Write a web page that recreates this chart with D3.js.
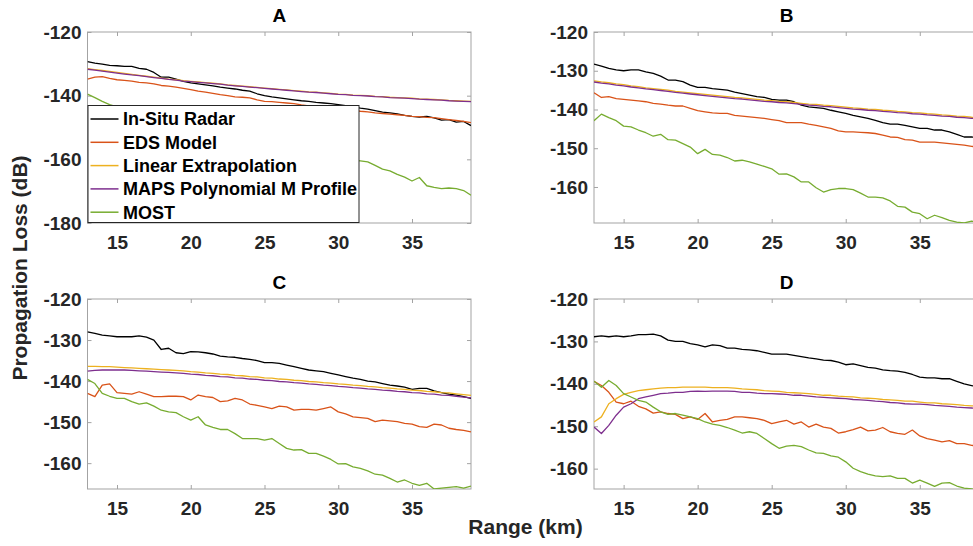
<!DOCTYPE html>
<html>
<head>
<meta charset="utf-8">
<script src="https://cdn.jsdelivr.net/npm/d3@7/dist/d3.min.js"></script>
<style>
  html, body { margin: 0; padding: 0; background: #fff; }
  svg { display: block; font-family: "Liberation Sans", Arial, Helvetica, sans-serif; }
</style>
</head>
<body>
<svg id="chart" width="973" height="546"></svg>
<script>
// ---------------- DATA ----------------
const seriesNames = ["In-Situ Radar", "EDS Model", "Linear Extrapolation", "MAPS Polynomial M Profile", "MOST"];
const seriesColors = ["#000000", "#D95319", "#EDB120", "#7E2F8E", "#77AC30"];
const panelTitles = ["A", "B", "C", "D"];
const xTicks = [15, 20, 25, 30, 35];
const yTicksA = [-180, -160, -140, -120];
const yTicksBCD = [-160, -150, -140, -130, -120];
const xDomain = [13, 39];
const yDomainA = [-180, -120];
const yDomainB = [-169.3, -120];
const yDomainC = [-166.3, -120];
const yDomainD = [-164.8, -120];

const rangeKm = [13,13.5,14,14.5,15,15.5,16,16.5,17,17.5,18,18.5,19,19.5,20,20.5,21,21.5,22,22.5,23,23.5,24,24.5,25,25.5,26,26.5,27,27.5,28,28.5,29,29.5,30,30.5,31,31.5,32,32.5,33,33.5,34,34.5,35,35.5,36,36.5,37,37.5,38,38.5,39];

// Panel A
const radarA = [-129.3,-129.8,-130.1,-130.5,-130.6,-130.8,-130.8,-131.4,-131.7,-132.7,-134.2,-134.2,-134.8,-135.5,-136.0,-136.3,-136.6,-136.9,-137.3,-137.6,-137.9,-138.3,-138.6,-139.4,-140.0,-140.4,-140.7,-141.0,-141.3,-141.6,-141.8,-142.1,-142.3,-142.5,-142.8,-143.1,-143.5,-143.9,-144.2,-144.7,-145.2,-145.4,-145.7,-146.2,-146.5,-146.7,-146.5,-147.0,-147.7,-147.5,-148.3,-148.1,-149.4];
const edsA = [-134.8,-134.2,-134.0,-134.6,-135.0,-135.2,-135.4,-135.8,-136.0,-136.3,-136.8,-137.0,-137.3,-137.7,-138.1,-138.6,-138.9,-139.3,-139.7,-140.0,-140.4,-140.5,-140.7,-141.3,-141.8,-141.9,-142.1,-142.3,-142.5,-142.9,-143.2,-143.4,-143.7,-143.9,-144.1,-144.3,-144.6,-144.9,-145.1,-145.4,-145.6,-145.8,-146.0,-146.2,-146.5,-146.6,-146.8,-146.9,-147.2,-147.5,-147.8,-148.1,-148.5];
const linearA = [-131.5,-131.8,-132.1,-132.4,-132.7,-133.0,-133.3,-133.6,-133.9,-134.2,-134.5,-134.8,-135.0,-135.3,-135.5,-135.7,-135.9,-136.1,-136.3,-136.6,-136.8,-137.0,-137.2,-137.4,-137.6,-137.8,-138.0,-138.2,-138.4,-138.6,-138.8,-138.9,-139.1,-139.3,-139.5,-139.6,-139.8,-139.9,-140.0,-140.2,-140.3,-140.5,-140.6,-140.7,-140.8,-141.0,-141.1,-141.2,-141.3,-141.5,-141.6,-141.7,-141.8];
const mapsA = [-131.7,-132.0,-132.3,-132.6,-132.9,-133.2,-133.5,-133.7,-134.0,-134.3,-134.6,-134.9,-135.1,-135.4,-135.6,-135.8,-136.0,-136.2,-136.4,-136.7,-136.9,-137.1,-137.3,-137.5,-137.7,-137.9,-138.1,-138.3,-138.5,-138.7,-138.9,-139.0,-139.2,-139.4,-139.6,-139.7,-139.9,-140.0,-140.1,-140.3,-140.4,-140.6,-140.7,-140.8,-140.9,-141.1,-141.2,-141.3,-141.4,-141.6,-141.7,-141.8,-141.9];
const mostA = [-139.5,-140.6,-141.8,-142.8,-143.5,-144.2,-144.6,-145.3,-146.0,-146.5,-147.2,-147.6,-148.4,-149.0,-149.5,-150.3,-150.8,-151.2,-151.9,-152.5,-153.0,-153.4,-154.0,-154.7,-155.1,-155.8,-156.4,-156.8,-157.3,-157.9,-158.2,-158.8,-159.2,-159.5,-159.8,-160.1,-160.3,-160.5,-160.8,-161.9,-163.1,-163.6,-164.7,-165.6,-166.8,-165.7,-168.3,-168.8,-169.2,-169.0,-169.2,-169.8,-171.3];

// Panel B
const radarB = [-128.3,-128.8,-129.4,-129.8,-130.0,-129.8,-129.8,-130.3,-130.7,-131.4,-132.4,-132.4,-132.8,-133.7,-134.3,-134.3,-134.6,-134.8,-135.0,-135.5,-135.9,-136.3,-136.7,-136.9,-137.4,-137.6,-137.6,-138.0,-138.9,-139.3,-139.5,-139.7,-140.2,-140.6,-141.0,-141.5,-141.9,-142.3,-142.8,-143.4,-143.8,-143.8,-144.1,-144.5,-144.9,-144.9,-145.3,-145.3,-145.8,-146.4,-147.1,-147.1,-147.2];
const edsB = [-135.7,-136.9,-136.7,-137.2,-137.4,-137.6,-137.8,-138.0,-138.4,-138.6,-138.9,-139.1,-139.1,-139.7,-140.3,-140.6,-140.9,-141.0,-141.0,-141.5,-141.7,-141.9,-142.1,-142.3,-142.6,-142.9,-143.4,-143.4,-143.4,-143.8,-144.1,-144.5,-144.9,-145.5,-145.8,-145.8,-145.9,-146.0,-146.2,-146.6,-147.1,-147.2,-147.8,-147.9,-148.4,-148.4,-148.4,-148.6,-148.8,-149.0,-149.2,-149.5,-149.8];
const linearB = [-132.6,-132.9,-133.1,-133.4,-133.6,-133.9,-134.1,-134.4,-134.6,-134.8,-135.0,-135.3,-135.5,-135.7,-135.9,-136.1,-136.3,-136.5,-136.7,-136.9,-137.0,-137.2,-137.4,-137.6,-137.7,-137.9,-138.0,-138.2,-138.4,-138.6,-138.7,-138.9,-139.0,-139.2,-139.4,-139.6,-139.7,-139.9,-140.0,-140.2,-140.3,-140.5,-140.6,-140.8,-140.9,-141.1,-141.2,-141.4,-141.5,-141.7,-141.8,-142.0,-142.1];
const mapsB = [-132.9,-133.2,-133.4,-133.7,-133.9,-134.2,-134.4,-134.7,-134.9,-135.1,-135.3,-135.6,-135.8,-136.0,-136.2,-136.4,-136.6,-136.8,-137.0,-137.2,-137.3,-137.5,-137.7,-137.9,-138.0,-138.2,-138.3,-138.5,-138.7,-138.9,-139.0,-139.2,-139.3,-139.5,-139.7,-139.9,-140.0,-140.2,-140.3,-140.5,-140.6,-140.8,-140.9,-141.1,-141.2,-141.4,-141.5,-141.7,-141.8,-142.0,-142.1,-142.3,-142.4];
const mostB = [-142.9,-141.2,-142.1,-142.9,-144.3,-144.5,-145.3,-146.0,-146.9,-146.4,-147.8,-147.9,-148.8,-149.7,-151.4,-150.3,-151.6,-151.8,-152.4,-153.3,-153.1,-153.5,-154.1,-154.7,-155.3,-156.7,-156.6,-157.4,-158.7,-158.7,-160.2,-161.3,-160.7,-160.4,-160.4,-160.7,-161.6,-162.6,-162.6,-162.8,-163.6,-165.0,-165.2,-166.5,-166.9,-168.2,-167.3,-167.9,-168.6,-169.1,-169.3,-168.8,-169.1];

// Panel C
const radarC = [-128.0,-128.4,-128.8,-129.0,-129.2,-129.2,-129.2,-129.0,-129.3,-130.0,-132.3,-132.0,-133.1,-133.3,-132.8,-132.9,-133.1,-133.4,-133.9,-134.1,-134.2,-134.5,-134.7,-135.0,-135.5,-135.5,-135.7,-136.1,-136.5,-136.9,-137.3,-137.5,-137.7,-138.1,-138.5,-138.9,-139.3,-139.6,-140.0,-140.2,-140.6,-141.0,-141.2,-141.5,-142.0,-141.8,-141.8,-142.4,-142.8,-143.2,-143.4,-143.8,-144.2];
const edsC = [-143.0,-143.8,-141.0,-140.7,-142.8,-143.0,-143.2,-142.6,-143.2,-143.8,-143.8,-143.7,-143.7,-143.8,-144.6,-143.4,-143.8,-144.0,-145.0,-144.8,-144.2,-144.6,-145.6,-145.9,-146.3,-146.7,-146.1,-146.3,-147.1,-146.9,-146.9,-147.1,-146.7,-146.3,-147.5,-148.0,-148.7,-148.9,-149.1,-149.9,-149.5,-149.7,-149.9,-150.3,-150.5,-151.1,-151.3,-150.5,-150.7,-151.5,-151.8,-152.0,-152.4];
const linearC = [-136.4,-136.4,-136.5,-136.5,-136.6,-136.7,-136.8,-136.9,-137.0,-137.1,-137.2,-137.3,-137.4,-137.5,-137.7,-137.8,-138.0,-138.1,-138.3,-138.4,-138.6,-138.7,-138.9,-139.0,-139.2,-139.3,-139.5,-139.6,-139.8,-139.9,-140.1,-140.2,-140.4,-140.5,-140.7,-140.8,-141.0,-141.1,-141.3,-141.4,-141.6,-141.7,-141.9,-142.0,-142.2,-142.3,-142.5,-142.6,-142.8,-142.9,-143.1,-143.3,-143.5];
const mapsC = [-137.6,-137.4,-137.3,-137.3,-137.3,-137.3,-137.4,-137.5,-137.6,-137.7,-137.8,-137.9,-138.0,-138.1,-138.3,-138.4,-138.6,-138.7,-138.9,-139.0,-139.2,-139.3,-139.5,-139.6,-139.8,-139.9,-140.1,-140.2,-140.4,-140.5,-140.7,-140.8,-141.0,-141.1,-141.3,-141.4,-141.6,-141.7,-141.9,-142.0,-142.2,-142.3,-142.5,-142.6,-142.8,-142.9,-143.1,-143.2,-143.4,-143.5,-143.7,-143.9,-144.1];
const mostC = [-139.6,-140.6,-143.0,-143.7,-144.2,-144.2,-145.0,-145.6,-145.3,-146.1,-147.1,-147.5,-147.7,-148.7,-149.5,-148.7,-150.7,-151.3,-151.8,-151.8,-152.8,-154.0,-154.0,-154.0,-154.4,-154.0,-155.2,-156.4,-156.8,-156.7,-157.6,-157.6,-158.3,-159.1,-160.2,-160.1,-160.9,-161.3,-161.9,-162.7,-162.9,-163.7,-164.6,-164.1,-164.9,-165.4,-164.9,-166.3,-166.1,-165.9,-165.7,-166.1,-165.6];

// Panel D
const radarD = [-128.9,-128.7,-128.9,-128.7,-128.9,-128.7,-128.4,-128.4,-128.3,-128.7,-129.7,-130.0,-130.0,-130.5,-130.8,-131.3,-130.8,-131.0,-131.6,-131.6,-131.9,-132.0,-132.2,-132.6,-133.0,-133.0,-133.0,-133.3,-133.6,-133.9,-134.1,-134.4,-134.5,-134.9,-135.5,-135.3,-135.7,-136.1,-136.3,-136.7,-136.9,-137.0,-137.3,-137.8,-138.4,-138.6,-138.6,-138.8,-138.8,-139.4,-140.0,-140.4,-140.8];
const edsD = [-139.4,-140.4,-142.0,-144.3,-144.7,-144.1,-145.3,-145.9,-146.9,-146.6,-147.0,-147.2,-148.2,-147.8,-148.4,-147.0,-149.0,-148.6,-148.4,-147.8,-147.8,-148.0,-148.2,-148.6,-149.4,-149.0,-148.6,-149.5,-149.0,-150.2,-149.5,-150.2,-150.5,-151.6,-151.3,-150.8,-150.2,-151.1,-150.9,-150.3,-151.3,-151.7,-151.9,-150.9,-152.3,-152.9,-153.3,-153.7,-153.4,-154.1,-154.1,-154.5,-154.7];
const linearD = [-149.0,-147.8,-144.7,-143.5,-142.5,-142.0,-141.6,-141.4,-141.2,-141.0,-140.9,-140.9,-140.8,-140.8,-140.8,-140.8,-140.9,-140.9,-140.9,-141.0,-141.2,-141.3,-141.4,-141.6,-141.7,-141.8,-142.0,-142.1,-142.2,-142.3,-142.5,-142.7,-142.7,-142.9,-143.0,-143.1,-143.3,-143.4,-143.5,-143.7,-143.8,-143.9,-144.1,-144.1,-144.3,-144.5,-144.5,-144.7,-144.8,-144.9,-145.1,-145.2,-145.3];
const mapsD = [-150.2,-151.7,-149.8,-147.4,-145.5,-144.7,-143.5,-143.1,-142.7,-142.3,-142.2,-142.0,-142.0,-141.8,-141.7,-141.8,-141.7,-141.7,-141.7,-141.8,-142.0,-142.0,-142.2,-142.3,-142.3,-142.4,-142.5,-142.7,-142.7,-142.9,-143.1,-143.2,-143.3,-143.4,-143.5,-143.7,-143.8,-143.9,-144.1,-144.2,-144.4,-144.5,-144.7,-144.8,-144.8,-144.9,-145.1,-145.2,-145.3,-145.5,-145.6,-145.7,-145.9];
const mostD = [-139.4,-140.8,-139.2,-140.4,-142.3,-143.1,-143.9,-144.3,-145.5,-146.6,-147.2,-147.0,-147.4,-147.8,-148.2,-149.0,-149.5,-149.8,-150.3,-150.9,-151.6,-151.3,-151.7,-152.9,-154.1,-155.2,-154.7,-154.5,-154.8,-155.6,-156.3,-156.4,-157.0,-157.3,-158.4,-159.9,-160.7,-161.3,-161.7,-161.9,-161.7,-162.3,-162.3,-163.4,-162.7,-163.4,-164.2,-163.4,-163.3,-164.1,-164.6,-164.8,-165.0];

// ---------------- LAYOUT ----------------
const svg = d3.select("#chart");
const tickFont = 19, tickColor = "#262626", frameColor = "#a3a3a3";
const fmt = d => String(d);   // plain hyphen-minus, as in the original

const panels = [
  { title: panelTitles[0], left: 87.5, right: 471, top: 32, bottom: 223, yDomain: yDomainA, yTicks: yTicksA,
    series: [radarA, edsA, linearA, mapsA, mostA], legend: true },
  { title: panelTitles[1], left: 594, right: 979, top: 32, bottom: 223, yDomain: yDomainB, yTicks: yTicksBCD,
    series: [radarB, edsB, linearB, mapsB, mostB] },
  { title: panelTitles[2], left: 87.5, right: 471, top: 299, bottom: 489, yDomain: yDomainC, yTicks: yTicksBCD,
    series: [radarC, edsC, linearC, mapsC, mostC] },
  { title: panelTitles[3], left: 594, right: 979, top: 299, bottom: 489, yDomain: yDomainD, yTicks: yTicksBCD,
    series: [radarD, edsD, linearD, mapsD, mostD] }
];

function styleAxis(g, showText) {
  g.select(".domain").remove();
  g.selectAll(".tick line").attr("stroke", frameColor).attr("stroke-width", 1);
  g.selectAll(".tick text")
    .attr("fill", tickColor)
    .style("font-size", tickFont + "px")
    .style("font-weight", "bold")
    .style("font-family", '"Liberation Sans", Arial, sans-serif')
    .style("display", showText ? null : "none");
}

panels.forEach((p, i) => {
  const x = d3.scaleLinear().domain(xDomain).range([p.left, p.right]);
  const y = d3.scaleLinear().domain(p.yDomain).range([p.bottom, p.top]);
  const g = svg.append("g");

  const clipId = "clip" + i;
  svg.append("defs").append("clipPath").attr("id", clipId)
    .append("rect").attr("x", p.left).attr("y", p.top)
    .attr("width", p.right - p.left).attr("height", p.bottom - p.top);

  g.append("g").attr("transform", `translate(0,${p.bottom})`)
    .call(d3.axisBottom(x).tickValues(xTicks).tickFormat(fmt).tickSizeInner(-4).tickSizeOuter(0).tickPadding(13))
    .call(a => styleAxis(a, true));
  g.append("g").attr("transform", `translate(0,${p.top})`)
    .call(d3.axisTop(x).tickValues(xTicks).tickFormat(fmt).tickSizeInner(-4).tickSizeOuter(0))
    .call(a => styleAxis(a, false));
  g.append("g").attr("transform", `translate(${p.left},0)`)
    .call(d3.axisLeft(y).tickValues(p.yTicks).tickFormat(fmt).tickSizeInner(-4).tickSizeOuter(0).tickPadding(6))
    .call(a => styleAxis(a, true));
  g.append("g").attr("transform", `translate(${p.right},0)`)
    .call(d3.axisRight(y).tickValues(p.yTicks).tickFormat(fmt).tickSizeInner(-4).tickSizeOuter(0))
    .call(a => styleAxis(a, false));

  g.append("rect").attr("x", p.left).attr("y", p.top)
    .attr("width", p.right - p.left).attr("height", p.bottom - p.top)
    .attr("fill", "none").attr("stroke", frameColor).attr("stroke-width", 1);

  const line = d3.line().x(d => x(d[0])).y(d => y(d[1]));
  const lg = g.append("g").attr("clip-path", `url(#${clipId})`);
  p.series.forEach((vals, k) => {
    const pts = vals.map((v, j) => [rangeKm[j], v]);
    lg.append("path").datum(pts)
      .attr("d", line)
      .attr("fill", "none")
      .attr("stroke", seriesColors[k])
      .attr("stroke-width", 1.3)
      .attr("stroke-linejoin", "round");
  });

  g.append("text")
    .attr("x", (p.left + p.right) / 2)
    .attr("y", p.top - 17)
    .attr("dy", "0.35em")
    .attr("text-anchor", "middle")
    .style("font-size", "19px").style("font-weight", "bold")
    .attr("fill", "#000")
    .text(p.title);

  if (p.legend) {
    const lx = p.left + 0.5, ly = 105.5, lw = 271, lh = 117;
    const leg = g.append("g");
    leg.append("rect").attr("x", lx).attr("y", ly).attr("width", lw).attr("height", lh)
      .attr("fill", "#fff").attr("stroke", "#262626").attr("stroke-width", 1);
    seriesNames.forEach((name, k) => {
      const cy = 119 + k * 23.3;
      leg.append("line").attr("x1", lx + 2.5).attr("x2", lx + 30.5)
        .attr("y1", cy).attr("y2", cy)
        .attr("stroke", seriesColors[k]).attr("stroke-width", 1.5);
      leg.append("text").attr("x", lx + 35).attr("y", cy).attr("dy", "0.35em")
        .style("font-size", "18px").style("font-weight", "bold")
        .attr("fill", "#000").text(name);
    });
  }
});

svg.append("text")
  .attr("transform", "translate(20,268) rotate(-90)")
  .attr("text-anchor", "middle").attr("dy", "0.35em")
  .style("font-size", "21px").style("font-weight", "bold")
  .attr("fill", tickColor)
  .text("Propagation Loss (dB)");
svg.append("text")
  .attr("x", 525.5).attr("y", 526.5).attr("dy", "0.35em")
  .attr("text-anchor", "middle")
  .style("font-size", "21px").style("font-weight", "bold")
  .attr("fill", tickColor)
  .text("Range (km)");
</script>
</body>
</html>
